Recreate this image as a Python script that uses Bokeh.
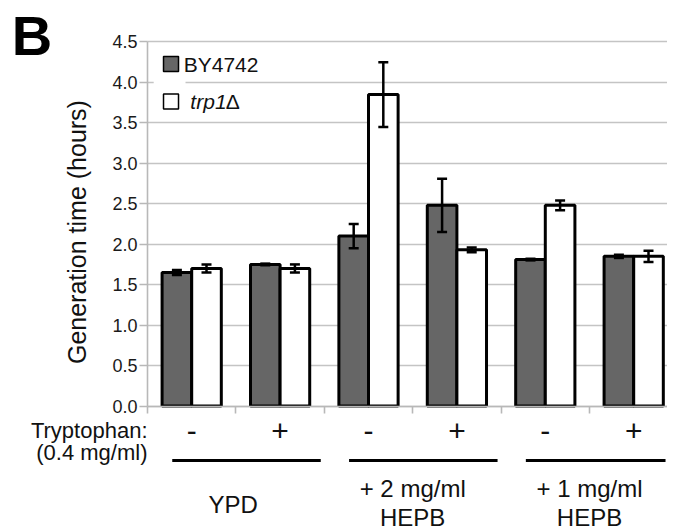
from bokeh.plotting import figure
from bokeh.models import (ColumnDataSource, Range1d, FixedTicker, Whisker, TeeHead,
                          Label, Arrow, CustomJSTickFormatter)
from bokeh.embed import file_html
from bokeh.resources import INLINE

# ---- data ----
tryptophan = ["-", "+", "-", "+", "-", "+"]
media = ["YPD", "+ 2 mg/ml\nHEPB", "+ 1 mg/ml\nHEPB"]
by4742 = [1.65, 1.75, 2.10, 2.48, 1.81, 1.85]
by4742_err = [0.03, 0.01, 0.15, 0.33, 0.01, 0.02]
trp1 = [1.70, 1.70, 3.85, 1.93, 2.48, 1.85]
trp1_err = [0.05, 0.05, 0.40, 0.03, 0.06, 0.07]
y_ticks = [0.0, 0.5, 1.0, 1.5, 2.0, 2.5, 3.0, 3.5, 4.0, 4.5]

FONT = "Liberation Sans"
DARK = "#666666"
TXT = "#111111"

n = len(tryptophan)
centers = [i + 0.5 for i in range(n)]
bw = 0.335

src_a = ColumnDataSource(dict(
    x=[c - bw / 2 for c in centers], top=by4742,
    upper=[v + e for v, e in zip(by4742, by4742_err)],
    lower=[v - e for v, e in zip(by4742, by4742_err)]))
src_b = ColumnDataSource(dict(
    x=[c + bw / 2 for c in centers], top=trp1,
    upper=[v + e for v, e in zip(trp1, trp1_err)],
    lower=[v - e for v, e in zip(trp1, trp1_err)]))

W, H = 667, 530
PX_X, PX_Y = 88.4, 80.9      # pixels per data unit
X0, Y0 = 147.0, 405.5        # pixel position of data (0, 0)

p = figure(width=W, height=H, output_backend="svg", toolbar_location=None,
           x_range=Range1d(-X0 / PX_X, (W - X0) / PX_X),
           y_range=Range1d((Y0 - H) / PX_Y, Y0 / PX_Y),
           min_border=0, min_border_left=0, min_border_right=0,
           min_border_top=0, min_border_bottom=0)
p.title.visible = False
p.outline_line_color = None
p.background_fill_color = "white"
p.border_fill_color = "white"

# grid
p.xgrid.grid_line_color = None
p.ygrid.ticker = FixedTicker(ticks=y_ticks)
grid_ok = True
try:
    p.ygrid.cross_bounds = (0, 6.0)
except Exception:
    grid_ok = False
if grid_ok:
    p.ygrid.grid_line_color = "#c4c4c4"
    p.ygrid.grid_line_width = 1.6
else:
    p.ygrid.grid_line_color = None
    p.segment(x0=[0] * len(y_ticks), x1=[6.0] * len(y_ticks), y0=y_ticks, y1=y_ticks,
              line_color="#c4c4c4", line_width=1.6)

# y axis (crossing at x = 0)
ya = p.yaxis[0]
ya.fixed_location = 0
ya.bounds = (0, 4.5)
ya.ticker = FixedTicker(ticks=y_ticks)
ya.formatter = CustomJSTickFormatter(code="return tick.toFixed(1);")
ya.axis_line_color = "#b8b8b8"
ya.axis_line_width = 1.6
ya.major_tick_line_color = "#b8b8b8"
ya.major_tick_line_width = 1.6
ya.major_tick_out = 8
ya.major_tick_in = 0
ya.minor_tick_line_color = None
ya.major_label_standoff = 2
ya.major_label_text_font = FONT
ya.major_label_text_font_size = "18px"
ya.major_label_text_color = "#1a1a1a"

# x axis (at y = 0)
xa = p.xaxis[0]
xa.fixed_location = 0
xa.bounds = (0, 6)
xa.ticker = FixedTicker(ticks=list(range(n + 1)))
xa.axis_line_color = "#b8b8b8"
xa.axis_line_width = 1.6
xa.major_tick_line_color = "#b8b8b8"
xa.major_tick_line_width = 1.6
xa.major_tick_out = 7
xa.major_tick_in = 0
xa.minor_tick_line_color = None
xa.major_label_text_font_size = "0px"
xa.major_label_text_alpha = 0

# bars
p.vbar(x="x", top="top", width=bw, bottom=0, source=src_a,
       fill_color=DARK, line_color="black", line_width=3)
p.vbar(x="x", top="top", width=bw, bottom=0, source=src_b,
       fill_color="white", line_color="black", line_width=3)

for s in (src_a, src_b):
    p.add_layout(Whisker(source=s, base="x", upper="upper", lower="lower",
                         level="overlay", line_color="black", line_width=2.5,
                         upper_head=TeeHead(size=10, line_width=2.5, line_color="black"),
                         lower_head=TeeHead(size=10, line_width=2.5, line_color="black")))

# legend (manual)
p.quad(left=[0.07], right=[0.43], bottom=[3.6], top=[4.4],
       fill_color="white", line_color=None)
p.scatter(x=[0.266], y=[4.227], marker="square", size=15, fill_color=DARK,
          line_color="black", line_width=1.5)
p.scatter(x=[0.266], y=[3.764], marker="square", size=15, fill_color="white",
          line_color="black", line_width=1.5)
p.add_layout(Label(x=0.41, y=4.227, text="BY4742", text_font=FONT,
                   text_font_size="21px", text_baseline="middle", text_color=TXT))
p.add_layout(Label(x=0.485, y=3.764, text="trp1", text_font=FONT,
                   text_font_style="italic", text_font_size="21px",
                   text_baseline="middle", text_color=TXT))
p.add_layout(Label(x=0.885, y=3.764, text="\u0394", text_font=FONT,
                   text_font_size="21px", text_baseline="middle", text_color=TXT))

# panel letter and y label
p.add_layout(Label(x=-1.307, y=4.58, text="B", text_font=FONT, text_font_style="bold",
                   text_font_size="56px", text_align="center", text_baseline="middle",
                   text_color="#000000"))
p.add_layout(Label(x=-0.80, y=2.15, text="Generation time (hours)", text_font=FONT,
                   text_font_size="25px", text_align="center", text_baseline="middle",
                   angle=1.5708, text_color=TXT))

# below-axis annotations
p.add_layout(Label(x=0.0, y=-0.303, text="Tryptophan:", text_font=FONT,
                   text_font_size="22px", text_align="right", text_baseline="middle",
                   text_color=TXT))
p.add_layout(Label(x=0.0, y=-0.575, text="(0.4 mg/ml)", text_font=FONT,
                   text_font_size="22px", text_align="right", text_baseline="middle",
                   text_color=TXT))
for c, t in zip(centers, tryptophan):
    p.add_layout(Label(x=c, y=-0.315, text=t, text_font=FONT, text_font_size="30px",
                       text_align="center", text_baseline="middle", text_color=TXT))

for g, m in enumerate(media):
    x0 = 2 * g + 0.28
    x1 = min(2 * g + 1.96, 5.86)
    p.add_layout(Arrow(end=None, start=None, x_start=x0, y_start=-0.674, x_end=x1,
                       y_end=-0.674, line_width=3, line_color="black"))
    lines = m.split("\n")
    if len(lines) == 1:
        p.add_layout(Label(x=2 * g + 0.97, y=-1.218, text=lines[0], text_font=FONT,
                           text_font_size="24px", text_align="center",
                           text_baseline="middle", text_color=TXT))
    else:
        for k, ln in enumerate(lines):
            p.add_layout(Label(x=2 * g + 1.0, y=-1.02 - 0.355 * k, text=ln, text_font=FONT,
                               text_font_size="24px", text_align="center",
                               text_baseline="middle", text_color=TXT))

open("out.html", "w").write(file_html(p, INLINE))
